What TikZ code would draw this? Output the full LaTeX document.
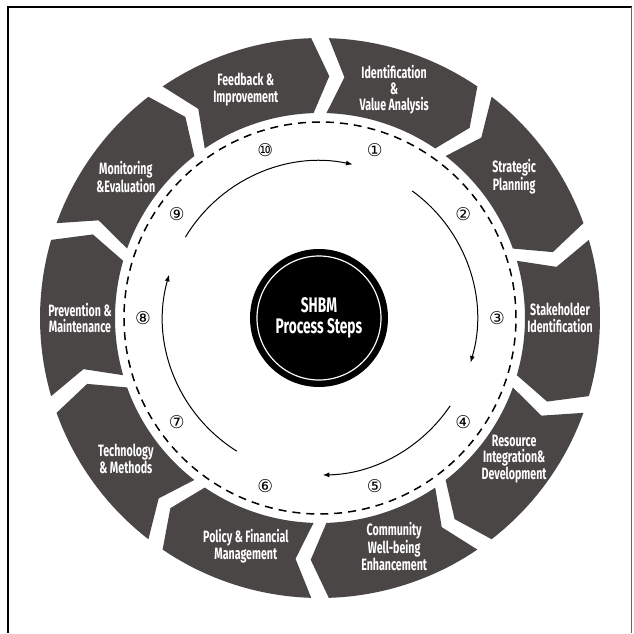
\documentclass[tikz,border=0pt]{standalone}
\usepackage{fontspec}
\setmainfont{Fira Sans}
\newfontfamily\condfont[FakeStretch=0.65]{Fira Sans}
\newfontfamily\circfont{DejaVu Sans}
\usetikzlibrary{arrows.meta}
\definecolor{seggray}{HTML}{4A4646}

\begin{document}
\begin{tikzpicture}[x=0.3mm, y=0.3mm, >={Latex[length=2mm,width=1.5mm]},
    lab/.style={text=white, align=center, font=\condfont\bfseries\fontsize{14}{14}\selectfont},
    num/.style={font=\circfont\fontsize{15}{15}\selectfont, inner sep=0pt},
    flow/.style={->, line width=0.3mm},
    ring/.style={line width=0.45mm, dash pattern=on 2.4mm off 1.8mm}]

  \useasboundingbox (-320,-315) rectangle (314,318);
  % frame, open at the bottom
  \draw[line width=0.65mm] (-312,-315) -- (-312,311) -- (312,311);
  \draw[black!60, line width=0.3mm] (312,311) -- (312,-315);

  % chevron segments, clockwise from the top
  \foreach \c/\txt/\n [count=\i] in {
      72/{Identification\\\&\\Value Analysis}/①,
      36/{Strategic\\Planning}/②,
      0/{Stakeholder\\Identification}/③,
      -36/{Resource\\Integration\&\\Development}/④,
      -72/{Community\\Well-being\\Enhancement}/⑤,
      -108/{Policy \& Financial\\Management}/⑥,
      -144/{Technology\\\& Methods}/⑦,
      180/{Prevention \&\\Maintenance}/⑧,
      144/{Monitoring\\\&Evaluation}/⑨,
      108/{Feedback \&\\Improvement}/⑩}
  {
    \pgfmathsetmacro\aa{\c+18-1.8}
    \pgfmathsetmacro\ab{\c-18+1.8}
    \fill[seggray] (\aa:280) -- ({\aa-4}:242) -- (\aa:205)
      arc[start angle=\aa, end angle=\ab, radius=205]
      -- ({\ab-4}:242) -- (\ab:280)
      arc[start angle=\ab, end angle=\aa, radius=280] -- cycle;
    \node[lab] (lab\i) at (\c:240) {\txt};
    \node[num] (num\i) at (\c:177) {\n};
  }

  \draw[ring] (0,0) circle[radius=196];

  % flow arrows
  \coordinate (f1) at (149:157);
  \coordinate (f2) at (54:157);
  \coordinate (f3) at (-34:157);
  \coordinate (f4) at (238:157);
  \draw[flow] (f1) arc[start angle=149, end angle=78, radius=157];
  \draw[flow] (f2) arc[start angle=54, end angle=-16.5, radius=157];
  \draw[flow] (f3) arc[start angle=-34, end angle=-89, radius=157];
  \draw[flow] (f4) arc[start angle=238, end angle=164, radius=157];

  % hub
  \node[circle, fill=black, minimum size=41.4mm, inner sep=0pt, text=white, align=center,
        font=\condfont\bfseries\fontsize{18}{18}\selectfont] (hub) at (-1,0) {SHBM\\Process Steps};
  \draw[white, line width=0.35mm] (hub.center) circle[radius=62];
\end{tikzpicture}
\end{document}
